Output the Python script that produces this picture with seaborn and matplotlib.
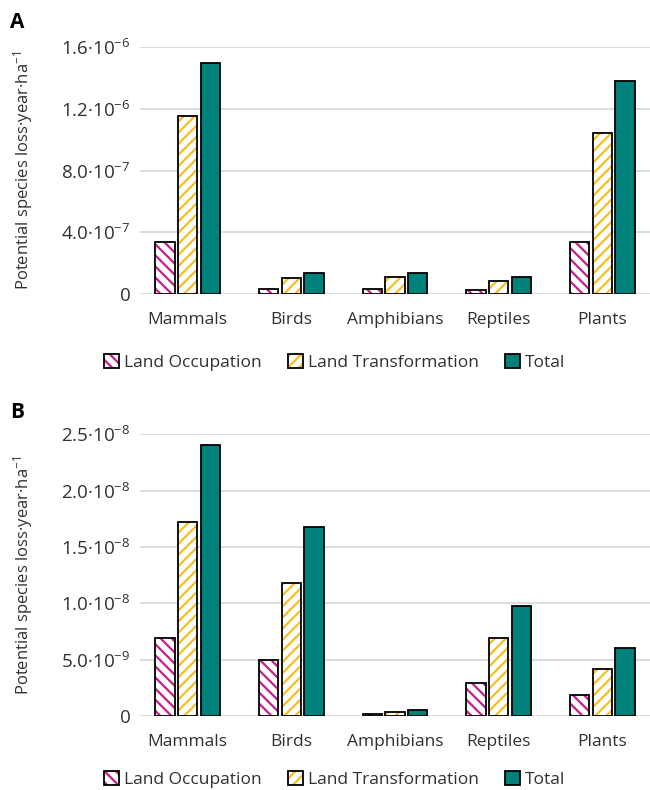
"""Potential species loss per land use type, panels A and B."""

import matplotlib.pyplot as plt
import matplotlib.colors as mcolors
import pandas as pd
import seaborn as sns

PINK = "#C81E8A"
GOLD = "#F6BE1E"
TEAL = "#00817B"
TEXT = "#303030"

sns.set_theme(style="whitegrid")
plt.rcParams["font.family"] = ["Open Sans", "DejaVu Sans"]
plt.rcParams["mathtext.default"] = "regular"
plt.rcParams["hatch.linewidth"] = 1.6

GROUPS = ["Mammals", "Birds", "Amphibians", "Reptiles", "Plants"]
SERIES = ["Land Occupation", "Land Transformation", "Total"]

A_OCC = [3.39e-7, 3.2e-8, 3.2e-8, 2.6e-8, 3.39e-7]
A_TRANS = [1.155e-6, 1.02e-7, 1.08e-7, 8.4e-8, 1.045e-6]
A_TOTAL = [1.498e-6, 1.34e-7, 1.38e-7, 1.12e-7, 1.38e-6]
A_TICKS = [0, 4e-7, 8e-7, 1.2e-6, 1.6e-6]
A_LABELS = ["0", r"$4.0·10^{-7}$", r"$8.0·10^{-7}$",
            r"$1.2·10^{-6}$", r"$1.6·10^{-6}$"]

B_OCC = [6.9e-9, 5.0e-9, 1.8e-10, 2.9e-9, 1.86e-9]
B_TRANS = [1.72e-8, 1.178e-8, 3.5e-10, 6.9e-9, 4.14e-9]
B_TOTAL = [2.405e-8, 1.677e-8, 5.3e-10, 9.76e-9, 6.0e-9]
B_TICKS = [0, 5e-9, 1e-8, 1.5e-8, 2e-8, 2.5e-8]
B_LABELS = ["0", r"$5.0·10^{-9}$", r"$1.0·10^{-8}$", r"$1.5·10^{-8}$",
            r"$2.0·10^{-8}$", r"$2.5·10^{-8}$"]

YLABEL = r"Potential species loss·year·ha$^{-1}$"


def long_table(occ, trans, total):
    rows = []
    for name, vals in zip(SERIES, [occ, trans, total]):
        for g, v in zip(GROUPS, vals):
            rows.append({"group": g, "type": name, "value": v})
    return pd.DataFrame(rows)


def draw_panel(ax, data, ticks, labels, top, legend_y):
    sns.barplot(data=data, x="group", y="value", hue="type",
                palette=["white", "white", TEAL], width=0.66, gap=0.15,
                edgecolor="black", linewidth=1.3, saturation=1,
                legend=False, ax=ax)
    # hatch colour differs from the black outline
    for cont, hatch, col in zip(ax.containers[:2], ["\\\\\\", "///"],
                                [PINK, GOLD]):
        for p in cont:
            p.set_hatch(hatch)
            p._hatch_color = mcolors.to_rgba(col)
    ax.set_xlim(-0.46, 4.46)
    ax.set_ylim(0, top)
    ax.set_yticks(ticks)
    ax.set_yticklabels(labels)
    ax.set_xlabel("")
    ax.set_ylabel(YLABEL, fontsize=12, color=TEXT)
    ax.yaxis.set_label_coords(-0.205, 0.5)
    ax.grid(axis="x", visible=False)
    ax.grid(axis="y", color="#d9d9d9", linewidth=1.3)
    for s in ax.spines.values():
        s.set_visible(False)
    ax.tick_params(axis="y", length=0, pad=7, labelsize=13.5,
                   labelcolor=TEXT)
    ax.tick_params(axis="x", length=0, pad=13, labelsize=12.5,
                   labelcolor=TEXT)
    handles = [c[0] for c in ax.containers]
    fig.legend(handles, SERIES, loc="center", ncol=3, frameon=False,
               bbox_to_anchor=(0.515, legend_y), fontsize=12.5,
               handlelength=0.85, handleheight=0.85, handletextpad=0.3,
               columnspacing=1.5, labelcolor=TEXT)


fig = plt.figure(figsize=(6.5, 7.9), dpi=100)
ax_a = fig.add_axes([140 / 650, 0.6278, 510 / 650, 0.3127])
ax_b = fig.add_axes([140 / 650, 0.0937, 510 / 650, 0.3566])

draw_panel(ax_a, long_table(A_OCC, A_TRANS, A_TOTAL), A_TICKS, A_LABELS,
           1.6e-6, 0.5415)
draw_panel(ax_b, long_table(B_OCC, B_TRANS, B_TOTAL), B_TICKS, B_LABELS,
           2.5e-8, 0.0135)

fig.text(0.015, 0.972, "A", fontsize=15, fontweight="bold", color="black",
         va="center")
fig.text(0.015, 0.478, "B", fontsize=15, fontweight="bold", color="black",
         va="center")

fig.savefig("out.png", dpi=100)
